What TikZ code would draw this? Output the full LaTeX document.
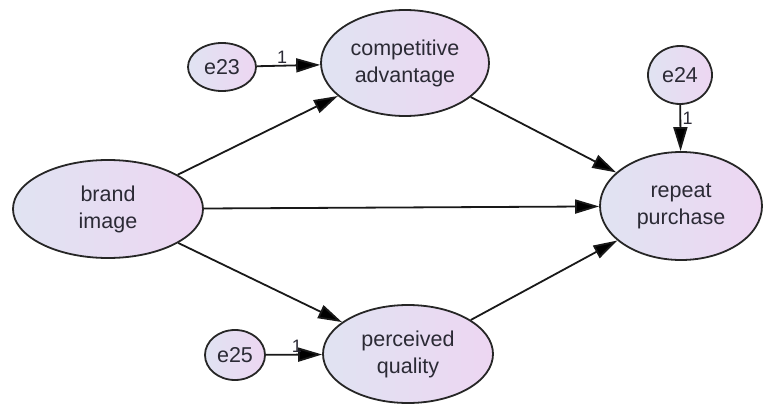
\documentclass[tikz,border=0pt]{standalone}
\usepackage{fontspec}
\setmainfont{Liberation Sans}
\usetikzlibrary{shapes.geometric,arrows.meta}

\definecolor{varleft}{HTML}{E0E3F2}
\definecolor{varright}{HTML}{EDD6F2}
\definecolor{vartext}{HTML}{2B2A35}

\tikzset{
  latent/.style={shape=ellipse, draw=black!85, line width=1.8pt,
    left color=varleft, right color=varright, inner sep=0pt,
    align=center, text=vartext, font=\fontsize{21.5}{27}\selectfont},
  errterm/.style={latent},
  reg/.style={-{Triangle[length=24pt,width=14pt]}, line width=1.8pt, draw=black!90},
  weight/.style={font=\fontsize{18}{20}\selectfont, text=vartext, inner sep=1.5pt}
}

\begin{document}
\begin{tikzpicture}[x=1pt,y=-1pt]
		\useasboundingbox (0,0) rectangle (763,404);

		\node[latent, minimum width=190pt, minimum height=98pt] (bi) at (108,209) {brand\\image};
		\node[latent, minimum width=168pt, minimum height=106pt] (ca) at (405,63) {competitive\\advantage};
		\node[latent, minimum width=170pt, minimum height=98pt] (pq) at (408,354) {perceived\\quality};
		\node[latent, minimum width=162pt, minimum height=108pt] (rp) at (681,206) {repeat\\purchase};
		\node[errterm, minimum width=68pt, minimum height=48pt] (e23) at (222,67) {e23};
		\node[errterm, minimum width=64pt, minimum height=58pt] (e24) at (680,75) {e24};
		\node[errterm, minimum width=60pt, minimum height=50pt] (e25) at (235,355) {e25};

		\path [reg] (bi) edge (ca);
		\path [reg] (bi) edge (pq);
		\path [reg] (bi) edge (rp);
		\path [reg] (ca) edge (rp);
		\path [reg] (pq) edge (rp);
		\path [reg] (e23) edge node[weight, above, pos=0.4] {1} (ca);
		\path [reg] (e24) edge node[weight, right, pos=0.3] {1} (rp);
		\path [reg] (e25) edge node[weight, above, pos=0.55] {1} (pq);
	\end{tikzpicture}
\end{document}
